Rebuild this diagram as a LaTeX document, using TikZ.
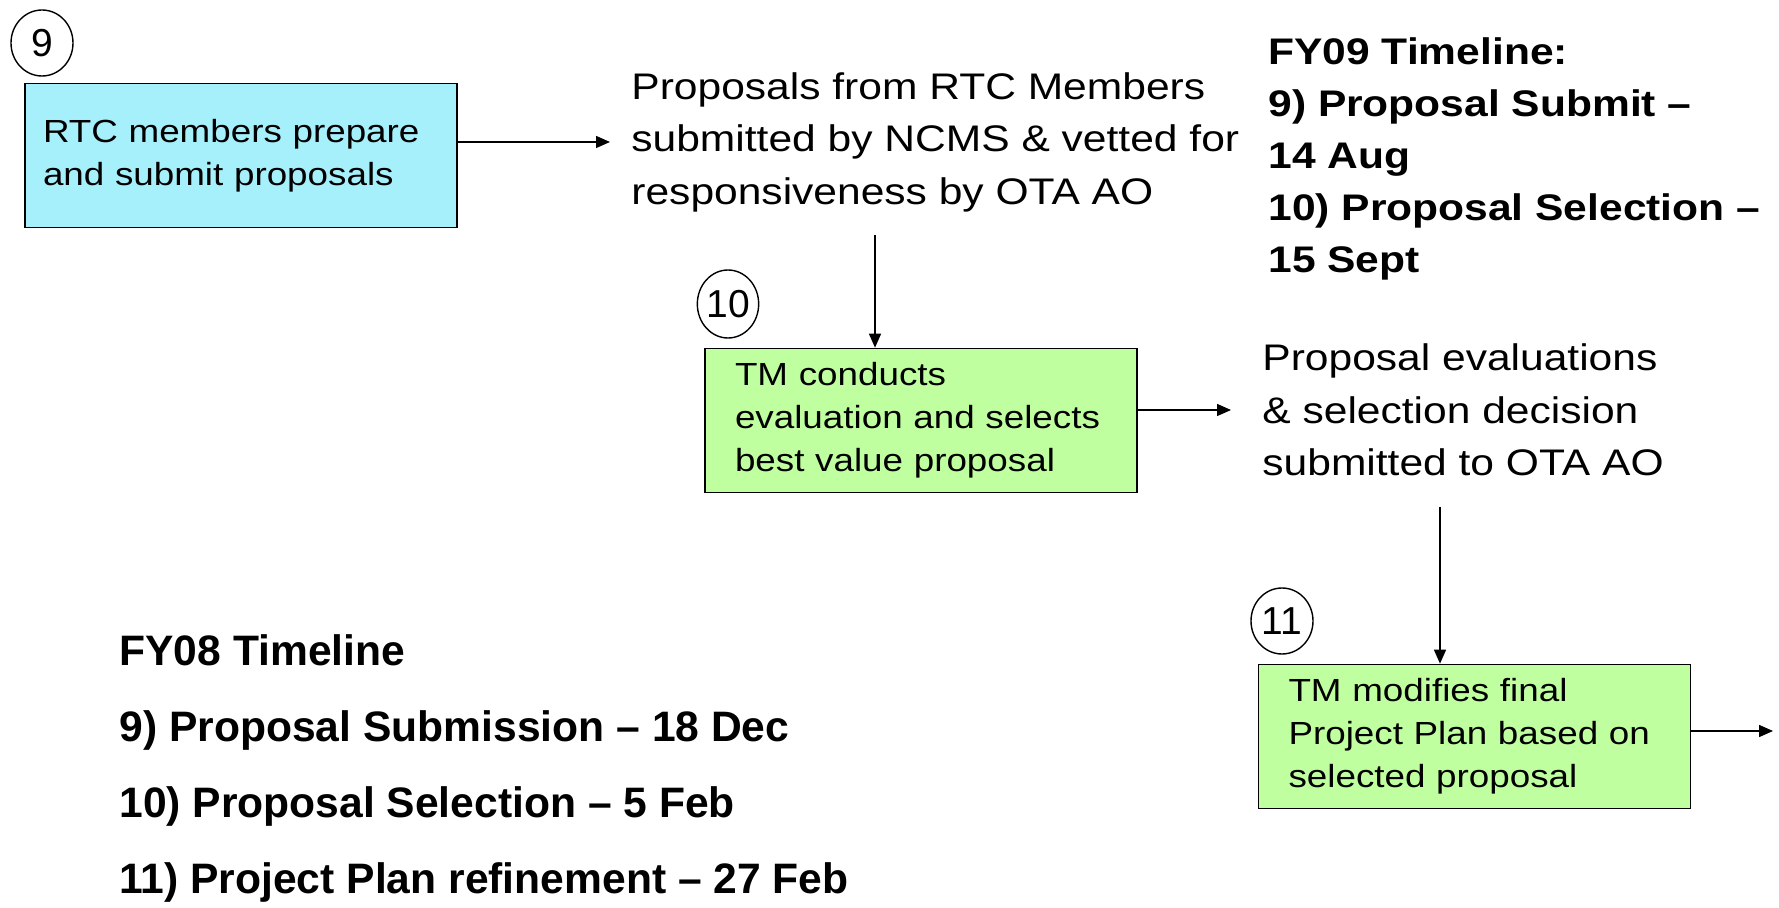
\documentclass[tikz,border=0pt]{standalone}
\usepackage{fontspec}
\setmainfont{Liberation Sans}[FakeStretch=1.15]
\newfontfamily\narrowface{Liberation Sans}[Ligatures=TeX]
\usetikzlibrary{arrows.meta,shapes.geometric}
\definecolor{rtcblue}{RGB}{166,240,252}
\definecolor{tmgreen}{RGB}{192,255,160}
\tikzset{
  >={Triangle[length=7pt,width=6pt]},
  flow/.style = {->, line width=0.7pt},
  stepbox/.style = {rectangle, draw, line width=0.8pt,
                    minimum width=216pt, minimum height=72pt, align=left,
                    font=\fontsize{16}{21.5}\selectfont},
  bluebox/.style = {stepbox, fill=rtcblue, inner xsep=9pt, text width=198pt},
  greenbox/.style = {stepbox, fill=tmgreen, inner xsep=15pt, text width=186pt},
  note/.style = {anchor=west, inner sep=0, align=left,
                 font=\fontsize{18.5}{26.25}\selectfont},
  timeline/.style = {note, font=\fontsize{18.5}{26}\selectfont\bfseries},
  number/.style = {ellipse, draw, line width=0.7pt, inner sep=0,
                   minimum width=31pt, minimum height=33pt,
                   font=\narrowface\fontsize{19.5}{19.5}\selectfont},
}
\begin{document}
\begin{tikzpicture}[x=0.5pt,y=-0.5pt]
  \useasboundingbox (0,0) rectangle (1779,908);
  % step 9
  \node[number] (n9) at (42,43) {9};
  \node[bluebox] (submit) at (241,155.5) {RTC members prepare\\ and submit proposals};
  \node[note] (vetted) at (631,142) {Proposals from RTC Members\\
    submitted by NCMS \& vetted for\\ responsiveness by OTA AO};
  % step 10
  \node[number, minimum width=27pt, minimum height=34pt] (n10) at (728,304) {10};
  \node[greenbox] (evaluate) at (921,420.5) {TM conducts\\
    evaluation and selects\\ best value proposal};
  \node[note] (decision) at (1262,410) {Proposal evaluations\\
    \& selection decision\\ submitted to OTA AO};
  % step 11
  \node[number] (n11) at (1282,621) {11};
  \node[greenbox] (modify) at (1474.5,736.5) {TM modifies final\\
    Project Plan based on\\ selected proposal};
  % timelines
  \node[timeline] (fy09) at (1268,159) {FY09 Timeline:\\ 9) Proposal Submit –\\
    14 Aug\\ 10) Proposal Selection –\\ 15 Sept};
  \node[note, font=\narrowface\bfseries\fontsize{21.3}{38}\selectfont] (fy08)
    at (119,768.5) {FY08 Timeline\\ 9) Proposal Submission – 18 Dec\\
    10) Proposal Selection – 5 Feb\\ 11) Project Plan refinement – 27 Feb};
  % connectors
  \coordinate (d1) at (875,235);
  \coordinate (d2) at (1440,507);
  \coordinate (out) at (1773,731);
  \draw[flow] (submit.east |- vetted.west) -- ([xshift=-10.5pt]vetted.west);
  \draw[flow] (d1) -- (d1 |- evaluate.north);
  \draw[flow] (evaluate.east |- decision.west) -- ([xshift=-15.5pt]decision.west);
  \draw[flow] (d2) -- (d2 |- modify.north);
  \draw[flow] (modify.east |- out) -- (out);
\end{tikzpicture}
\end{document}
